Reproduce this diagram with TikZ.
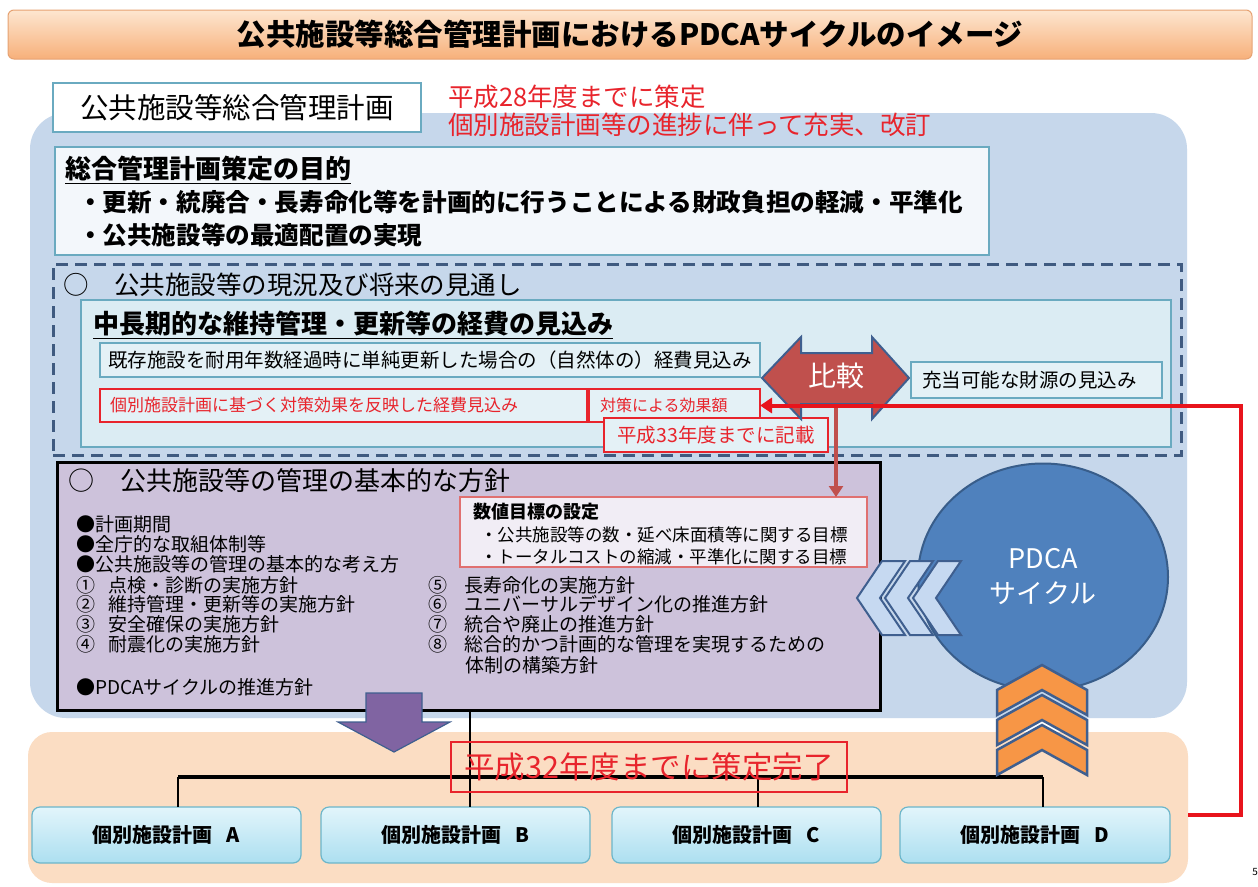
\documentclass[tikz,border=0pt]{standalone}
\usepackage{fontspec}
\setmainfont{Noto Sans CJK JP}
\usetikzlibrary{shapes.geometric,arrows.meta,calc}
\definecolor{titletop}{HTML}{FDE6D0}
\definecolor{titlebot}{HTML}{F7B07A}
\definecolor{titleedge}{HTML}{E6A272}
\definecolor{bluereg}{HTML}{C6D7EB}
\definecolor{tealedge}{HTML}{6AAAC0}
\definecolor{paleblue}{HTML}{F3F7FB}
\definecolor{dashcol}{HTML}{3F5A80}
\definecolor{cyanfill}{HTML}{DBECF3}
\definecolor{cyanbox}{HTML}{E4F1F6}
\definecolor{redtxt}{HTML}{E8242C}
\definecolor{hikakufill}{HTML}{C0504D}
\definecolor{navyedge}{HTML}{3F5F8F}
\definecolor{lavender}{HTML}{CDC2DB}
\definecolor{lavlight}{HTML}{F1EDF5}
\definecolor{pinkedge}{HTML}{E07070}
\definecolor{pdcafill}{HTML}{4F81BD}
\definecolor{pdcaedge}{HTML}{385D8A}
\definecolor{chevblue}{HTML}{C6D9F1}
\definecolor{chevorange}{HTML}{F79646}
\definecolor{purplearrow}{HTML}{8064A2}
\definecolor{peach}{HTML}{FBDDC3}
\definecolor{plantop}{HTML}{E2F5FB}
\definecolor{planbot}{HTML}{ACDFF0}
\definecolor{planedge}{HTML}{6CB6CA}
\definecolor{redline}{HTML}{E8141C}
\newcommand{\fsz}[1]{\fontsize{#1}{#1}\selectfont}
\tikzset{
  nwbox/.style={anchor=north west, inner sep=0pt},
  tealbox/.style={nwbox, draw=tealedge, line width=1.5pt},
  redbox/.style={nwbox, draw=redtxt, line width=2pt},
  lefttext/.style={anchor=west, inner sep=0pt},
  chevL/.style={fill=chevblue, draw=navyedge, line width=2pt, line join=miter},
  chevU/.style={fill=chevorange, draw=navyedge, line width=2.5pt, line join=miter},
  planbox/.style={nwbox, minimum height=56pt, rounded corners=8pt, top color=plantop, bottom color=planbot, draw=planedge, line width=1.2pt, font=\fsz{20}\bfseries},
  treeline/.style={draw=black, line width=2pt},
}
\begin{document}
\begin{tikzpicture}[x=1pt,y=-1pt, every node/.style={inner sep=0pt, outer sep=0pt}]
\useasboundingbox (0,0) rectangle (1258,886);
\fill[white] (0,0) rectangle (1258,886);

% title
\node[nwbox, minimum width=1244pt, minimum height=49pt, rounded corners=6pt, top color=titletop, bottom color=titlebot, draw=titleedge, line width=1pt] (titlebar) at (8,10) {};
\node[font=\fsz{29.5}\bfseries] (title) at (titlebar.center) {公共施設等総合管理計画におけるPDCAサイクルのイメージ};

% regions
\node[nwbox, minimum width=1157pt, minimum height=605pt, rounded corners=36pt, fill=bluereg] (bluereg) at (30,113) {};
\node[nwbox, minimum width=1160pt, minimum height=151pt, rounded corners=24pt, fill=peach] (peachreg) at (28,732) {};

% label and red notes
\node[tealbox, minimum width=368pt, minimum height=49pt, fill=white] (labelbox) at (53,83) {};
\node[font=\fsz{28.5}] (labeltxt) at (labelbox.center) {公共施設等総合管理計画};
\node[lefttext, text=redtxt, font=\fsz{25.5}] (red1) at (448,97) {平成28年度までに策定};
\node[lefttext, text=redtxt, font=\fsz{25.5}] (red2) at (448,125) {個別施設計画等の進捗に伴って充実、改訂};

% purpose
\node[tealbox, minimum width=934pt, minimum height=108pt, fill=paleblue] (purpose) at (55,147) {};
\node[lefttext, font=\fsz{26}\bfseries] (purpT) at (65,170) {\underline{総合管理計画策定の目的}};
\node[lefttext, font=\fsz{24.6}\bfseries] (purp1) at (78,202) {・更新・統廃合・長寿命化等を計画的に行うことによる財政負担の軽減・平準化};
\node[lefttext, font=\fsz{24.6}\bfseries] (purp2) at (78,235) {・公共施設等の最適配置の実現};

% outlook
\node[nwbox, minimum width=1128pt, minimum height=191pt, draw=dashcol, line width=3pt, dash pattern=on 12pt off 7pt] (outlook) at (53,264) {};
\node[lefttext, font=\fsz{25.5}] (outlookT) at (63,285) {○　公共施設等の現況及び将来の見通し};
\node[tealbox, minimum width=1090pt, minimum height=147pt, fill=cyanfill] (costarea) at (81,300) {};
\node[lefttext, font=\fsz{26}\bfseries] (costT) at (93,325) {\underline{中長期的な維持管理・更新等の経費の見込み}};
\node[tealbox, minimum width=660pt, minimum height=34pt, fill=cyanbox] (natural) at (100,343) {};
\node[lefttext, font=\fsz{19.5}] (naturalT) at (108,360) {既存施設を耐用年数経過時に単純更新した場合の（自然体の）経費見込み};
\node[redbox, minimum width=487pt, minimum height=33pt, fill=cyanbox] (reflect) at (100,389) {};
\node[lefttext, text=redtxt, font=\fsz{17}] (reflectT) at (110,405.5) {個別施設計画に基づく対策効果を反映した経費見込み};
\node[redbox, minimum width=171pt, minimum height=33pt, fill=cyanbox] (kouka) at (589,389) {};
\node[lefttext, text=redtxt, font=\fsz{16}] (koukaT) at (600,405.5) {対策による効果額};
\node[redbox, minimum width=224pt, minimum height=34pt, fill=cyanbox] (kisai) at (604,418) {};
\node[text=redtxt, font=\fsz{19.5}] (kisaiT) at (kisai.center) {平成33年度までに記載};

% compare double arrow
\filldraw[fill=hikakufill, draw=navyedge, line width=2pt, line join=miter]
  (762,378) -- (801,337) -- (801,353) -- (872,353) -- (872,337) -- (909,378)
  -- (872,419) -- (872,404) -- (801,404) -- (801,419) -- cycle;
\coordinate (hikakubot) at (836,404);
\node[text=white, font=\fsz{28}] (hikaku) at (836,376) {比較};
\node[tealbox, minimum width=251pt, minimum height=36pt, fill=cyanbox] (zaigen) at (911,362) {};
\node[lefttext, font=\fsz{19.5}] (zaigenT) at (922,380) {充当可能な財源の見込み};

% basic policy
\node[nwbox, minimum width=823pt, minimum height=248pt, fill=lavender, draw=black, line width=3pt] (kihon) at (57,462) {};
\node[lefttext, font=\fsz{26}] (kihonT) at (68,481) {○　公共施設等の管理の基本的な方針};
\node[nwbox, minimum width=407pt, minimum height=70pt, fill=lavlight, draw=pinkedge, line width=2pt] (mokuhyo) at (460,497) {};
\node[lefttext, font=\fsz{18}\bfseries] (mokuhyoT) at (473,512) {数値目標の設定};
\node[lefttext, font=\fsz{17.5}] (mokuhyo1) at (480,535) {・公共施設等の数・延べ床面積等に関する目標};
\node[lefttext, font=\fsz{17.5}] (mokuhyo2) at (480,557) {・トータルコストの縮減・平準化に関する目標};
\foreach \yy/\itemtext [count=\i] in {524/●計画期間, 544/●全庁的な取組体制等, 564/●公共施設等の管理の基本的な考え方, 585/①\hspace{14pt}点検・診断の実施方針, 604/②\hspace{14pt}維持管理・更新等の実施方針, 624/③\hspace{14pt}安全確保の実施方針, 644/④\hspace{14pt}耐震化の実施方針, 687/●PDCAサイクルの推進方針}
  \node[lefttext, font=\fsz{19}] (left\i) at (76,\yy) {\itemtext};
\foreach \yy/\itemtext [count=\i] in {585/⑤\hspace{18pt}長寿命化の実施方針, 604/⑥\hspace{18pt}ユニバーサルデザイン化の推進方針, 624/⑦\hspace{18pt}統合や廃止の推進方針, 644/⑧\hspace{18pt}総合的かつ計画的な管理を実現するための}
  \node[lefttext, font=\fsz{19}] (right\i) at (428,\yy) {\itemtext};
\node[lefttext, font=\fsz{19}] (right5) at (465,665) {体制の構築方針};

% brown arrow from compare to targets
\draw[draw=hikakufill, line width=3.5pt, -{Triangle[width=14pt,length=11pt]}] (hikakubot) -- (hikakubot |- mokuhyo.north);

% tree
\coordinate (treeA) at (178,777);
\coordinate (treeB) at (470,777);
\coordinate (treeC) at (758,777);
\coordinate (treeD) at (1043,777);
\node[planbox, minimum width=269pt] (planA) at (32,807) {個別施設計画\hspace{14pt}A};
\node[planbox, minimum width=269pt] (planB) at (321,807) {個別施設計画\hspace{14pt}B};
\node[planbox, minimum width=269pt] (planC) at (612,807) {個別施設計画\hspace{14pt}C};
\node[planbox, minimum width=270pt] (planD) at (900,807) {個別施設計画\hspace{14pt}D};
\draw[treeline] (treeB |- kihon.south) -- (treeB |- planB.north);
\draw[draw=black, line width=4pt] (treeA) -- (treeD);
\draw[treeline] (treeA) -- (treeA |- planA.north);
\draw[treeline] (treeC) -- (treeC |- planC.north);
\draw[treeline] (treeD) -- (treeD |- planD.north);

% PDCA circle
\node[ellipse, minimum width=250pt, minimum height=227pt, fill=pdcafill, draw=pdcaedge, line width=2pt, text=white, align=center, font=\fontsize{27}{35}\selectfont] (pdca) at (1043,577) {PDCA\\サイクル};
\foreach \x in {913,885,857}
  \filldraw[chevL] (\x,598) -- ++(25,-37) -- ++(23,0) -- ++(-25,37) -- ++(25,37) -- ++(-23,0) -- cycle;
\foreach \t in {725,695,665}
  \filldraw[chevU] (1042,\t) -- ++(45,25) -- ++(0,25) -- ++(-45,-25) -- ++(-45,25) -- ++(0,-25) -- cycle;

% purple arrow
\filldraw[fill=purplearrow, draw=navyedge, line width=1.2pt, line join=miter]
  (366,693) -- (422,693) -- (422,722) -- (450,722) -- (394,752) -- (338,722) -- (366,722) -- cycle;

% deadline box
\node[nwbox, minimum width=396pt, minimum height=50pt, draw=redtxt, line width=2.5pt] (kanryo) at (451,742) {};
\node[text=redtxt, font=\fsz{30.5}] (kanryoT) at (kanryo.center) {平成32年度までに策定完了};

% red feedback line
\coordinate (redstart) at (1188,815);
\draw[draw=redline, line width=4pt, -{Triangle[width=15pt,length=12pt]}] (redstart) -- ++(53,0) |- (kouka.east);

\node[anchor=east, font=\fsz{10}] (pagenum) at (1258,872) {5};
\end{tikzpicture}
\end{document}
